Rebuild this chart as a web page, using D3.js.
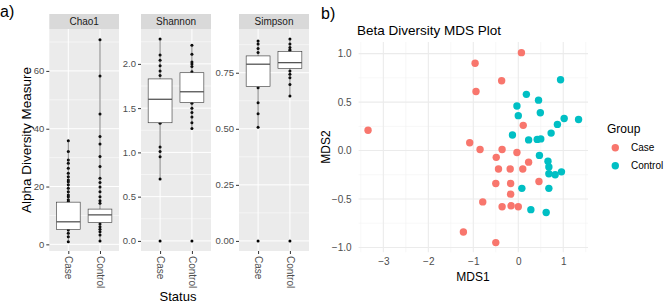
<!DOCTYPE html>
<html>
<head>
<meta charset="utf-8">
<script src="https://cdn.jsdelivr.net/npm/d3@7"></script>
<style>
  body { margin: 0; background: #fff; }
  svg { font-family: "Liberation Sans", Arial, sans-serif; }
</style>
</head>
<body>
<svg width="669" height="306"></svg>
<script>
// ---- data ----
var categories = ["Case", "Control"];
var measures = ["Chao1", "Shannon", "Simpson"];

// box stats per group: [whisker low, q1, median, q3, whisker high]
var chao1Stats = [[0.9, 5.2, 7.8, 14.6, 35.8], [1.2, 7.6, 10.2, 12.2, 70.8]];
var shannonStats = [[0.70, 1.335, 1.60, 1.83, 2.28], [1.27, 1.565, 1.685, 1.90, 2.21]];
var simpsonStats = [[0.507, 0.688, 0.788, 0.825, 0.892], [0.646, 0.769, 0.795, 0.845, 0.90]];

var chao1Points = [
  [35.8, 32.1, 29.2, 28.1, 26.3, 24.6, 23.4, 22.3, 21.7, 20.6, 19.4, 18.2, 17.1, 16.5, 15.4, 14.8, 5.0, 3.8, 2.6, 0.9],
  [70.8, 58.2, 45.1, 37.3, 34.7, 30.4, 26.9, 22.9, 21.4, 19.8, 18.2, 16.5, 15.1, 14.2, 7.0, 6.1, 5.2, 4.4, 3.2, 1.2]
];
var shannonPoints = [
  [2.28, 2.10, 2.04, 1.98, 1.92, 1.87, 1.33, 1.06, 1.01, 0.95, 0.70, 0],
  [2.21, 2.11, 2.02, 2.0, 1.97, 1.91, 1.555, 1.50, 1.45, 1.40, 1.335, 1.27, 0]
];
var simpsonPoints = [
  [0.892, 0.878, 0.858, 0.840, 0.683, 0.616, 0.567, 0.507, 0],
  [0.90, 0.878, 0.863, 0.852, 0.848, 0.758, 0.743, 0.728, 0.698, 0.646, 0]
];

var chao1Ticks = [0, 20, 40, 60];
var shannonTicks = [0, 0.5, 1, 1.5, 2];
var simpsonTicks = [0, 0.25, 0.5, 0.75];

// MDS ordination coordinates
var caseMDS1 = [0.07, -0.96, -0.37, -0.94, 0.11, -3.34, -1.08, -0.85, -0.36, -0.03, -0.49, 0.23, -0.44, -0.18, 0.10, 0.46, -0.50, -0.17, -0.17, -0.79, -0.36, -0.16, 0.00, -1.22, -0.50];
var caseMDS2 = [1.01, 0.90, 0.72, 0.61, 0.26, 0.21, 0.08, 0.01, 0.01, -0.02, -0.07, -0.12, -0.19, -0.19, -0.19, -0.32, -0.34, -0.34, -0.45, -0.53, -0.58, -0.57, -0.58, -0.84, -0.95];
var controlMDS1 = [0.94, 0.18, 0.45, -0.03, 0.00, 0.49, 1.02, 1.34, 0.87, 0.73, -0.13, 0.23, 0.42, 0.50, 0.47, 0.66, 0.68, 0.68, 0.82, 0.96, 0.08, 0.68, 0.28, 0.62];
var controlMDS2 = [0.73, 0.58, 0.52, 0.46, 0.36, 0.39, 0.33, 0.32, 0.27, 0.18, 0.16, 0.11, 0.115, 0.12, -0.05, -0.11, -0.17, -0.24, -0.25, -0.22, -0.39, -0.39, -0.61, -0.64];
var mdsXTicks = [-3, -2, -1, 0, 1];
var mdsYTicks = [-1, -0.5, 0, 0.5, 1];
var groupColors = ["#F8766D", "#00BFC4"];

var svg = d3.select("svg");

// ---- panel a) ----
svg.append("text").attr("x", 0).attr("y", 17).attr("font-size", 16).text("a)");

var panels = [
  {name: "Chao1", stats: chao1Stats, pts: chao1Points, ticks: chao1Ticks, dom: [-2.3, 74.5], x0: 49.3, x1: 119, fmt: d3.format("d")},
  {name: "Shannon", stats: shannonStats, pts: shannonPoints, ticks: shannonTicks, dom: [-0.114, 2.394], x0: 141, x1: 211, fmt: d3.format(".1f")},
  {name: "Simpson", stats: simpsonStats, pts: simpsonPoints, ticks: simpsonTicks, dom: [-0.045, 0.945], x0: 239, x1: 309, fmt: d3.format(".2f")}
];
var pTop = 29, pBot = 251;

panels.forEach(function(p) {
  var x = d3.scalePoint().domain(categories).range([p.x0, p.x1]).padding(0.6);
  var y = d3.scaleLinear().domain(p.dom).range([pBot, pTop]);
  var g = svg.append("g");

  // strip
  g.append("rect").attr("x", p.x0).attr("y", 14).attr("width", p.x1 - p.x0).attr("height", pTop - 14).attr("fill", "#d9d9d9");
  g.append("text").attr("x", (p.x0 + p.x1) / 2).attr("y", 21.5).attr("dy", "0.35em")
    .attr("text-anchor", "middle").attr("font-size", 10).attr("fill", "#1a1a1a").text(p.name);

  // panel background + grid
  g.append("rect").attr("x", p.x0).attr("y", pTop).attr("width", p.x1 - p.x0).attr("height", pBot - pTop).attr("fill", "#ebebeb");
  var step = p.ticks[1] - p.ticks[0];
  var minor = p.ticks.map(function(t) { return t + step / 2; }).filter(function(t) { return t < p.dom[1]; });
  g.selectAll(".minor").data(minor).enter().append("line")
    .attr("x1", p.x0).attr("x2", p.x1).attr("y1", y).attr("y2", y)
    .attr("stroke", "#fff").attr("stroke-width", 0.5);
  g.selectAll(".major").data(p.ticks).enter().append("line")
    .attr("x1", p.x0).attr("x2", p.x1).attr("y1", y).attr("y2", y)
    .attr("stroke", "#fff").attr("stroke-width", 1);
  g.selectAll(".vgrid").data(categories).enter().append("line")
    .attr("x1", x).attr("x2", x).attr("y1", pTop).attr("y2", pBot)
    .attr("stroke", "#fff").attr("stroke-width", 1);

  // y axis
  var ya = g.append("g").attr("transform", "translate(" + p.x0 + ",0)")
    .call(d3.axisLeft(y).tickValues(p.ticks).tickFormat(p.fmt).tickSize(3).tickPadding(2));
  ya.select(".domain").remove();
  ya.selectAll("line").attr("stroke", "#333");
  ya.selectAll("text").attr("fill", "#4d4d4d").attr("font-size", 9.5).attr("font-family", "Liberation Sans, Arial, sans-serif");

  // x axis, rotated labels
  var xa = g.append("g").attr("transform", "translate(0," + pBot + ")")
    .call(d3.axisBottom(x).tickSize(3).tickPadding(2));
  xa.select(".domain").remove();
  xa.selectAll("line").attr("stroke", "#333");
  xa.selectAll("text").attr("fill", "#4d4d4d").attr("font-size", 10).attr("font-family", "Liberation Sans, Arial, sans-serif")
    .attr("transform", "rotate(90)").attr("x", 5).attr("y", 0).attr("dy", "0.35em").attr("text-anchor", "start");

  categories.forEach(function(c, i) {
    var s = p.stats[i], cx = x(c), bw = x.step() * 0.75;
    // points (under box)
    g.selectAll(null).data(p.pts[i]).enter().append("circle")
      .attr("cx", cx).attr("cy", y).attr("r", 1.5).attr("fill", "#000");
    // whisker
    g.append("line").attr("x1", cx).attr("x2", cx).attr("y1", y(s[0])).attr("y2", y(s[4]))
      .attr("stroke", "#333").attr("stroke-width", 0.6);
    // box
    g.append("rect").attr("x", cx - bw / 2).attr("width", bw)
      .attr("y", y(s[3])).attr("height", y(s[1]) - y(s[3]))
      .attr("fill", "#fff").attr("stroke", "#333").attr("stroke-width", 0.6);
    g.append("line").attr("x1", cx - bw / 2).attr("x2", cx + bw / 2).attr("y1", y(s[2])).attr("y2", y(s[2]))
      .attr("stroke", "#555").attr("stroke-width", 1.3);
  });
});

svg.append("text").attr("transform", "translate(30.5,140) rotate(-90)").attr("text-anchor", "middle")
  .attr("font-size", 13.5).attr("textLength", 146).attr("lengthAdjust", "spacingAndGlyphs")
  .attr("fill", "#000").text("Alpha Diversity Measure");
svg.append("text").attr("x", 178).attr("y", 301).attr("text-anchor", "middle")
  .attr("font-size", 13).attr("fill", "#000").text("Status");

// ---- panel b) ----
svg.append("text").attr("x", 321).attr("y", 19).attr("font-size", 16).text("b)");

var mx = d3.scaleLinear().domain([-3.55, 1.55]).range([358.6, 588]);
var my = d3.scaleLinear().domain([-1.05, 1.12]).range([252.3, 42]);
var b = svg.append("g");

var xMinor = [-3.5, -2.5, -1.5, -0.5, 0.5, 1.5];
var yMinor = [-0.75, -0.25, 0.25, 0.75];
b.selectAll(".xminor").data(xMinor).enter().append("line")
  .attr("x1", mx).attr("x2", mx).attr("y1", 42).attr("y2", 252.3).attr("stroke", "#f2f2f2").attr("stroke-width", 0.6);
b.selectAll(".yminor").data(yMinor).enter().append("line")
  .attr("y1", my).attr("y2", my).attr("x1", 358.6).attr("x2", 588).attr("stroke", "#f2f2f2").attr("stroke-width", 0.6);
b.selectAll(".xmajor").data(mdsXTicks).enter().append("line")
  .attr("x1", mx).attr("x2", mx).attr("y1", 42).attr("y2", 252.3).attr("stroke", "#ebebeb").attr("stroke-width", 1.1);
b.selectAll(".ymajor").data(mdsYTicks).enter().append("line")
  .attr("y1", my).attr("y2", my).attr("x1", 358.6).attr("x2", 588).attr("stroke", "#ebebeb").attr("stroke-width", 1.1);

var bx = b.append("g").attr("transform", "translate(0,252.3)")
  .call(d3.axisBottom(mx).tickValues(mdsXTicks).tickFormat(d3.format("d")).tickSize(0).tickPadding(6));
var by = b.append("g").attr("transform", "translate(358.6,0)")
  .call(d3.axisLeft(my).tickValues(mdsYTicks).tickFormat(d3.format(".1f")).tickSize(0).tickPadding(7));
[bx, by].forEach(function(a) {
  a.select(".domain").remove();
  a.selectAll("text").attr("fill", "#4d4d4d").attr("font-size", 10).attr("font-family", "Liberation Sans, Arial, sans-serif");
});

var mdsSets = [[caseMDS1, caseMDS2], [controlMDS1, controlMDS2]];
mdsSets.forEach(function(set, k) {
  b.selectAll(null).data(set[0]).enter().append("circle")
    .attr("cx", function(d) { return mx(d); })
    .attr("cy", function(d, i) { return my(set[1][i]); })
    .attr("r", 3.7).attr("fill", groupColors[k]);
});

b.append("text").attr("x", 357).attr("y", 35).attr("font-size", 13.5).attr("fill", "#000").text("Beta Diversity MDS Plot");
b.append("text").attr("transform", "translate(330,147) rotate(-90)").attr("text-anchor", "middle")
  .attr("font-size", 12).attr("fill", "#000").text("MDS2");
b.append("text").attr("x", 473).attr("y", 281).attr("text-anchor", "middle")
  .attr("font-size", 12).attr("fill", "#000").text("MDS1");

// legend
var lg = b.append("g");
lg.append("text").attr("x", 607).attr("y", 128.3).attr("dy", "0.35em").attr("font-size", 12).text("Group");
categories.forEach(function(c, i) {
  var yy = 147.7 + i * 18;
  lg.append("circle").attr("cx", 615.3).attr("cy", yy).attr("r", 3.7).attr("fill", groupColors[i]);
  lg.append("text").attr("x", 631).attr("y", yy).attr("dy", "0.35em").attr("font-size", 10).attr("fill", "#000").text(c);
});
</script>
</body>
</html>
